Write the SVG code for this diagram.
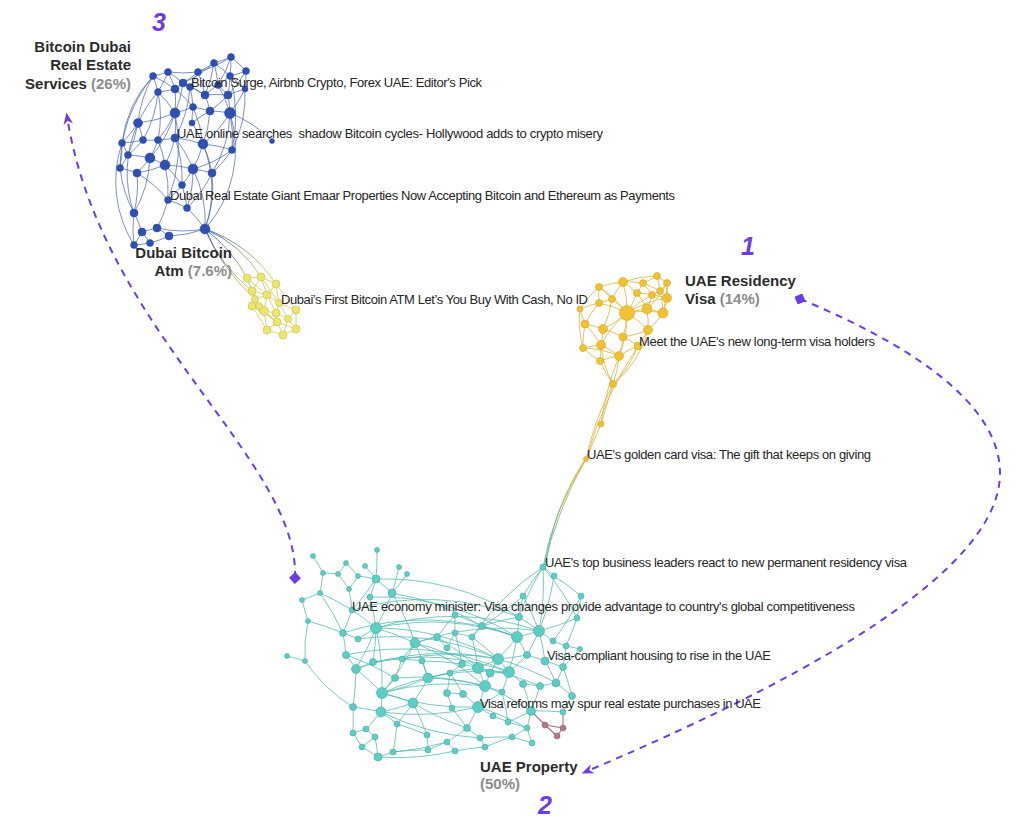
<svg xmlns="http://www.w3.org/2000/svg" width="1018" height="830" viewBox="0 0 1018 830">
<style>
.lbl{font-family:"Liberation Sans",Arial,sans-serif;font-size:13px;fill:#262626}
.big{font-family:"Liberation Sans",Arial,sans-serif;font-size:15px;font-weight:bold;fill:#2b2b2b}
.pct{fill:#8c8c8c}
.num{font-family:"Liberation Sans",Arial,sans-serif;font-size:25px;font-weight:bold;font-style:italic;fill:#6b3de3;text-anchor:middle}
.eb{fill:none;stroke:#3d5aa8;stroke-width:0.8;stroke-opacity:0.85}
.ey{fill:none;stroke:#cfc957;stroke-width:0.8}
.eg{fill:none;stroke:#d9b33c;stroke-width:0.8}
.et{fill:none;stroke:#4fb8b0;stroke-width:0.9;stroke-opacity:0.85}
.ep{fill:none;stroke:#a8707e;stroke-width:1.1}
.nb circle{fill:#2f4fb3;stroke:#27449e;stroke-width:0.5}
.ny circle{fill:#ebe66e;stroke:#c5bf45;stroke-width:0.6}
.ng circle{fill:#f2c131;stroke:#d7a51e;stroke-width:0.6}
.nt circle{fill:#5ecdc4;stroke:#47aaa2;stroke-width:0.6}
.np circle{fill:#b07a88;stroke:#94606e;stroke-width:0.6}
.arrow{fill:none;stroke:#6b3de3;stroke-width:2;stroke-dasharray:7 6}
</style>
<defs>
<linearGradient id="gBY" gradientUnits="userSpaceOnUse" x1="205" y1="229" x2="255" y2="282"><stop offset="0" stop-color="#3d5aa8"/><stop offset="1" stop-color="#cfc957"/></linearGradient>
<linearGradient id="gGT" gradientUnits="userSpaceOnUse" x1="586" y1="459" x2="543" y2="567"><stop offset="0" stop-color="#d9b33c"/><stop offset="1" stop-color="#4fb8b0"/></linearGradient>
<marker id="arr" viewBox="0 0 10 10" refX="7" refY="5" markerWidth="12" markerHeight="12" markerUnits="userSpaceOnUse" orient="auto"><path d="M0,1 L10,5 L0,9 L3,5 z" fill="#6b3de3"/></marker>
<marker id="dia" viewBox="0 0 10 10" refX="5" refY="5" markerWidth="12" markerHeight="12" markerUnits="userSpaceOnUse" orient="auto"><path d="M5,0 L10,5 L5,10 L0,5 z" fill="#6b3de3"/></marker>
</defs>
<rect width="1018" height="830" fill="#ffffff"/>
<g id="connectors">
<path class="eb" d="M231 57A120 120 0 0 1 214 63M231 57A120 120 0 0 1 246 71M231 57A120 120 0 0 1 230 76M231 57A120 120 0 0 1 218 85M214 63A120 120 0 0 1 198 72M214 63A120 120 0 0 1 230 76M214 63A120 120 0 0 1 218 85M214 63A120 120 0 0 1 183 83M246 71A120 120 0 0 1 230 76M246 71A120 120 0 0 1 245 89M246 71A120 120 0 0 1 228 95M198 72A120 120 0 0 1 168 72M198 72A120 120 0 0 1 190 87M198 72A120 120 0 0 1 183 83M198 72A120 120 0 0 1 205 95M168 72A120 120 0 0 1 153 76M168 72A120 120 0 0 1 183 83M168 72A120 120 0 0 1 175 89M153 76A120 120 0 0 1 158 92M153 76A120 120 0 0 1 175 89M153 76A120 120 0 0 0 138 123M230 76A120 120 0 0 1 218 85M230 76A120 120 0 0 1 228 95M230 76A120 120 0 0 1 245 89M183 83A120 120 0 0 1 175 89M183 83A120 120 0 0 1 190 87M183 83A120 120 0 0 1 205 95M175 89A120 120 0 0 1 158 92M175 89A120 120 0 0 1 175 113M175 89A120 120 0 0 1 193 107M158 92A120 120 0 0 0 138 123M158 92A120 120 0 0 1 175 113M190 87A120 120 0 0 1 205 95M190 87A120 120 0 0 1 193 107M205 95A120 120 0 0 1 218 85M205 95A120 120 0 0 1 228 95M205 95A120 120 0 0 1 210 111M218 85A120 120 0 0 1 228 95M218 85A120 120 0 0 1 230 113M228 95A120 120 0 0 1 245 89M228 95A120 120 0 0 1 230 113M245 89A120 120 0 0 1 230 113M245 89A120 120 0 0 1 232 150M193 107A120 120 0 0 1 210 111M193 107A120 120 0 0 1 175 113M193 107A120 120 0 0 1 203 144M210 111A120 120 0 0 1 230 113M210 111A120 120 0 0 1 203 144M230 113A120 120 0 0 1 232 150M230 113A120 120 0 0 1 203 144M230 113A120 120 0 0 1 212 173M175 113A120 120 0 0 1 138 123M175 113A120 120 0 0 1 175 138M175 113A120 120 0 0 1 158 140M175 113A120 120 0 0 1 150 158M138 123A120 120 0 0 1 143 140M138 123A120 120 0 0 1 122 143M138 123A120 120 0 0 1 128 155M175 138A120 120 0 0 1 158 140M175 138A120 120 0 0 1 203 144M175 138A120 120 0 0 1 165 165M175 138A120 120 0 0 1 193 169M158 140A120 120 0 0 1 143 140M158 140A120 120 0 0 1 150 158M143 140A120 120 0 0 1 122 143M143 140A120 120 0 0 1 128 155M122 143A120 120 0 0 1 128 155M122 143A120 120 0 0 1 120 168M203 144A120 120 0 0 1 232 150M203 144A120 120 0 0 1 193 169M203 144A120 120 0 0 1 212 173M232 150A120 120 0 0 1 212 173M128 155A120 120 0 0 1 150 158M128 155A120 120 0 0 1 120 168M150 158A120 120 0 0 1 165 165M150 158A120 120 0 0 1 137 173M165 165A120 120 0 0 1 193 169M165 165A120 120 0 0 1 182 185M165 165A120 120 0 0 1 168 200M120 168A120 120 0 0 1 137 173M120 168A120 120 0 0 0 134 213M137 173A120 120 0 0 1 168 200M137 173A120 120 0 0 1 134 213M193 169A120 120 0 0 1 212 173M193 169A120 120 0 0 1 182 185M193 169A120 120 0 0 1 187 208M212 173A120 120 0 0 1 205 229M182 185A120 120 0 0 1 168 200M182 185A120 120 0 0 1 187 208M168 200A120 120 0 0 1 187 208M168 200A120 120 0 0 1 157 228M187 208A120 120 0 0 1 205 229M134 213A120 120 0 0 1 142 232M134 213A120 120 0 0 0 134 245M205 229A120 120 0 0 1 169 236M205 229A120 120 0 0 1 157 228M142 232A120 120 0 0 1 157 228M142 232A120 120 0 0 1 150 243M142 232A120 120 0 0 1 134 245M157 228A120 120 0 0 1 169 236M169 236A120 120 0 0 1 150 243M150 243A120 120 0 0 1 134 245M193 169A120 120 0 0 1 205 229M203 144A120 120 0 0 1 205 229M230 113A120 120 0 0 1 205 229M138 123A120 120 0 0 0 134 213M122 143A120 120 0 0 0 134 245M153 76A120 120 0 0 0 122 143M158 92A120 120 0 0 1 158 140M190 87A120 120 0 0 1 175 138M214 63A120 120 0 0 1 205 95M192 123A120 120 0 0 1 193 107M192 123A120 120 0 0 1 210 111M192 123A120 120 0 0 1 203 144M231 57A120 120 0 0 1 198 72M168 72A120 120 0 0 1 158 92M158 92A120 120 0 0 1 143 140M150 158A120 120 0 0 1 134 213M165 165A120 120 0 0 1 137 173M212 173A120 120 0 0 1 187 208M175 138A120 120 0 0 1 182 185M232 150A120 120 0 0 1 193 169M228 95A120 120 0 0 1 210 111M183 83A120 120 0 0 1 175 113M158 140A120 120 0 0 1 165 165M230 113A120 120 0 0 1 272 141M175 113A150 150 0 0 1 168 200M153 76A150 150 0 0 0 120 168M230 76A150 150 0 0 1 232 150"/>
<path fill="none" stroke="url(#gBY)" stroke-width="0.9" d="M205 229A150 150 0 0 1 247 278M205 229A120 120 0 0 1 261 277M205 229A160 160 0 0 0 252 291M205 229A140 140 0 0 1 276 284M205 229A200 200 0 0 0 255 299"/>
<path class="ey" d="M247 278L261 277M247 278L252 291M247 278L255 299M261 277L276 284M261 277L252 291M261 277L267 295M276 284L267 295M276 284L279 303M276 284L296 310M252 291L267 295M252 291L255 299M252 291L259 306M267 295L279 303M267 295L255 299M267 295L264 311M267 295L276 313M279 303L276 313M279 303L296 310M279 303L288 319M255 299L252 306M255 299L264 311M252 306L264 311M252 306L267 330M252 306L259 306M264 311L276 313M264 311L277 322M264 311L267 330M276 313L288 319M276 313L277 322M288 319L296 310M288 319L296 329M288 319L283 335M296 310L296 329M277 322L267 330M277 322L283 335M267 330L283 335M283 335L296 329M277 322L296 329M259 306L264 311M259 306L277 322M261 277L279 303M247 278L267 295M252 306L277 322"/>
<path class="eg" d="M657 276A100 100 0 0 1 667 283M657 276A100 100 0 0 1 643 283M657 276A100 100 0 0 1 660 291M657 276A100 100 0 0 0 623 282M667 283A100 100 0 0 1 660 291M667 283A100 100 0 0 1 667 298M623 282A100 100 0 0 1 643 283M623 282A100 100 0 0 0 599 287M623 282A100 100 0 0 1 637 293M623 282A100 100 0 0 1 627 313M643 283A100 100 0 0 1 637 293M643 283A100 100 0 0 1 652 295M643 283A100 100 0 0 1 660 291M599 287A100 100 0 0 1 612 299M599 287A100 100 0 0 0 599 303M637 293A100 100 0 0 1 652 295M637 293A100 100 0 0 1 627 313M637 293A100 100 0 0 1 647 309M652 295A100 100 0 0 1 660 291M652 295A100 100 0 0 1 667 298M652 295A100 100 0 0 1 647 309M660 291A100 100 0 0 1 667 298M660 291A100 100 0 0 1 663 313M667 298A100 100 0 0 1 663 313M612 299A100 100 0 0 1 599 303M612 299A100 100 0 0 1 627 313M612 299A100 100 0 0 1 603 329M599 303A100 100 0 0 0 580 309M599 303A100 100 0 0 0 585 324M599 303A100 100 0 0 1 627 313M627 313A100 100 0 0 1 647 309M627 313A100 100 0 0 1 663 313M627 313A100 100 0 0 1 603 329M627 313A100 100 0 0 1 623 337M627 313A100 100 0 0 1 648 330M627 313A100 100 0 0 0 601 345M627 313A100 100 0 0 1 619 356M647 309A100 100 0 0 1 663 313M647 309A100 100 0 0 1 648 330M663 313A100 100 0 0 1 648 330M580 309A100 100 0 0 0 585 324M585 324A100 100 0 0 1 603 329M585 324A100 100 0 0 0 583 348M603 329A100 100 0 0 1 623 337M603 329A100 100 0 0 1 601 345M648 330A100 100 0 0 1 623 337M648 330A100 100 0 0 1 638 346M623 337A100 100 0 0 1 619 356M623 337A100 100 0 0 1 638 346M583 348A100 100 0 0 1 601 345M583 348A100 100 0 0 0 600 361M601 345A100 100 0 0 1 619 356M601 345A100 100 0 0 1 600 361M619 356A100 100 0 0 1 638 346M619 356A100 100 0 0 1 613 384M638 346A100 100 0 0 1 613 384M600 361A100 100 0 0 0 613 384M601 345A100 100 0 0 0 613 384M648 330A100 100 0 0 1 613 384M623 282A100 100 0 0 0 612 299M627 313A100 100 0 0 0 599 287M627 313A100 100 0 0 1 652 295M663 313A100 100 0 0 0 667 283M627 313A100 100 0 0 1 667 298M647 309A100 100 0 0 0 667 283M585 324A100 100 0 0 1 601 345M580 309A100 100 0 0 0 583 348M583 348A100 100 0 0 1 619 356M600 361A100 100 0 0 1 619 356M599 287A100 100 0 0 0 580 309M613 384L601 424M613 384A300 300 0 0 0 586 459M601 424L586 459M619 356A300 300 0 0 0 601 424M638 346A400 400 0 0 0 587 456"/>
<path fill="none" stroke="url(#gGT)" stroke-width="0.9" d="M586 459A300 300 0 0 0 543 567M588 455A260 260 0 0 0 545 570M586 459A400 400 0 0 0 544 566"/>
<path class="et" d="M313 556A260 260 0 0 1 323 573M323 573A260 260 0 0 1 320 593M323 573A260 260 0 0 1 338 574M346 563A260 260 0 0 1 338 574M346 563A260 260 0 0 1 358 576M338 574A260 260 0 0 1 349 589M377 550A260 260 0 0 1 376 579M365 566A260 260 0 0 1 376 579M358 576A260 260 0 0 1 376 579M358 576A260 260 0 0 1 349 589M399 567A260 260 0 0 1 392 593M407 574A260 260 0 0 1 392 593M376 579A260 260 0 0 1 370 597M376 579A260 260 0 0 1 392 593M376 579A260 260 0 0 1 352 610M349 589A260 260 0 0 1 352 610M320 593A260 260 0 0 1 302 600M320 593A260 260 0 0 1 352 610M320 593A260 260 0 0 1 343 633M302 600A260 260 0 0 0 308 621M308 621A160 160 0 0 0 305 661M287 656A260 260 0 0 1 305 661M370 597A260 260 0 0 1 376 628M392 593A260 260 0 0 1 376 628M392 593A260 260 0 0 1 415 643M352 610A260 260 0 0 1 343 633M352 610A260 260 0 0 1 376 628M343 633A260 260 0 0 1 358 639M343 633A260 260 0 0 1 346 655M358 639A260 260 0 0 1 376 628M376 628A260 260 0 0 1 415 643M376 628A260 260 0 0 1 373 662M376 628A260 260 0 0 1 356 669M376 628A260 260 0 0 1 382 693M415 643A260 260 0 0 1 437 637M415 643A260 260 0 0 1 428 678M415 643A260 260 0 0 1 402 659M415 643A260 260 0 0 1 382 693M437 637A260 260 0 0 1 447 648M437 637A260 260 0 0 1 455 615M447 648A260 260 0 0 1 455 633M346 655A260 260 0 0 1 356 669M346 655A260 260 0 0 1 395 678M373 662A260 260 0 0 1 402 659M373 662A260 260 0 0 1 356 669M402 659A260 260 0 0 1 422 661M402 659A260 260 0 0 1 395 678M356 669A260 260 0 0 1 382 693M356 669A260 260 0 0 1 353 707M422 661A260 260 0 0 1 428 678M395 678A260 260 0 0 1 382 693M428 678A260 260 0 0 1 382 693M428 678A260 260 0 0 1 413 703M428 678A260 260 0 0 1 450 673M382 693A260 260 0 0 1 413 703M382 693A260 260 0 0 1 381 712M413 703A260 260 0 0 1 381 712M413 703A260 260 0 0 1 397 724M353 707A260 260 0 0 1 381 712M353 707A260 260 0 0 1 353 733M381 712A260 260 0 0 1 397 724M381 712A260 260 0 0 1 366 729M397 724A260 260 0 0 1 393 752M353 733A260 260 0 0 1 366 729M353 733A260 260 0 0 1 362 747M366 729A260 260 0 0 1 375 737M362 747A260 260 0 0 1 375 737M362 747A260 260 0 0 1 378 757M375 737A260 260 0 0 1 378 757M393 752A260 260 0 0 1 378 757M397 724A260 260 0 0 1 427 735M427 735A260 260 0 0 1 428 750M413 703A260 260 0 0 1 427 735M428 750A260 260 0 0 1 447 742M393 752A260 260 0 0 1 428 750M305 661A160 160 0 0 0 353 707M308 621A260 260 0 0 1 343 633M543 567A260 260 0 0 1 554 576M543 567A260 260 0 0 0 523 596M543 567A260 260 0 0 1 539 631M554 576A260 260 0 0 1 539 631M523 596A260 260 0 0 0 519 617M523 596A260 260 0 0 1 539 631M581 596A260 260 0 0 1 577 618M577 618A260 260 0 0 1 539 631M577 618A260 260 0 0 1 566 646M581 596A260 260 0 0 1 553 641M519 617A260 260 0 0 0 482 626M519 617A260 260 0 0 1 517 637M519 617A260 260 0 0 1 539 631M455 615A260 260 0 0 1 482 626M455 615A260 260 0 0 0 455 633M482 626A260 260 0 0 1 517 637M482 626A260 260 0 0 1 472 637M539 631A260 260 0 0 1 517 637M539 631A260 260 0 0 1 553 641M539 631A260 260 0 0 1 527 655M539 631A260 260 0 0 1 545 661M517 637A260 260 0 0 1 527 655M517 637A260 260 0 0 1 498 659M517 637A260 260 0 0 1 509 672M455 633A260 260 0 0 1 472 637M455 633A260 260 0 0 1 462 664M472 637A260 260 0 0 1 498 659M472 637A260 260 0 0 1 478 668M553 641A260 260 0 0 1 566 646M566 646A260 260 0 0 1 580 649M566 646A260 260 0 0 1 563 667M580 649A260 260 0 0 1 563 667M527 655A260 260 0 0 1 498 659M527 655A260 260 0 0 1 545 661M527 655A260 260 0 0 1 509 672M498 659A260 260 0 0 1 478 668M498 659A260 260 0 0 1 509 672M498 659A260 260 0 0 1 490 673M545 661A260 260 0 0 1 563 667M545 661A260 260 0 0 1 556 683M462 664A260 260 0 0 1 478 668M462 664A260 260 0 0 1 450 673M478 668A260 260 0 0 1 490 673M478 668A260 260 0 0 1 485 686M509 672A260 260 0 0 1 523 684M509 672A260 260 0 0 1 490 673M509 672A260 260 0 0 1 502 692M563 667A260 260 0 0 1 556 683M563 667A260 260 0 0 1 572 696M490 673A260 260 0 0 1 485 686M450 673A260 260 0 0 1 447 693M450 673A260 260 0 0 1 463 694M523 684A260 260 0 0 1 540 686M523 684A260 260 0 0 1 531 711M540 686A260 260 0 0 1 556 683M540 686A260 260 0 0 1 531 711M556 683A260 260 0 0 1 572 696M485 686A260 260 0 0 1 502 692M485 686A260 260 0 0 1 478 707M447 693A260 260 0 0 1 463 694M447 693A260 260 0 0 1 452 708M463 694A260 260 0 0 1 478 707M572 696A260 260 0 0 1 563 712M502 692A260 260 0 0 1 478 707M502 692A260 260 0 0 1 508 722M478 707A260 260 0 0 1 493 716M478 707A260 260 0 0 1 467 728M531 711A260 260 0 0 1 508 722M531 711A260 260 0 0 1 527 728M531 711A260 260 0 0 1 563 712M452 708A260 260 0 0 1 467 728M493 716A260 260 0 0 1 508 722M508 722A260 260 0 0 1 527 728M467 728A260 260 0 0 1 447 742M467 728A260 260 0 0 1 480 738M447 742A260 260 0 0 1 455 751M480 738A260 260 0 0 1 485 747M512 737A260 260 0 0 1 532 743M527 728A260 260 0 0 1 512 737M480 738A260 260 0 0 1 512 737M455 751A260 260 0 0 1 485 747M532 743A260 260 0 0 1 527 728M485 747A260 260 0 0 1 512 737M376 628A260 260 0 0 1 498 659M376 628A260 260 0 0 1 517 637M415 643A260 260 0 0 1 478 668M415 643A260 260 0 0 1 485 686M382 693A260 260 0 0 1 485 686M382 693A260 260 0 0 0 478 707M356 669A260 260 0 0 1 498 659M346 655A260 260 0 0 1 509 672M343 633A260 260 0 0 1 517 637M352 610A260 260 0 0 1 519 617M392 593A260 260 0 0 1 482 626M437 637A260 260 0 0 1 478 668M373 662A260 260 0 0 1 509 672M381 712A260 260 0 0 0 478 707M413 703A260 260 0 0 0 467 728M378 757A260 260 0 0 0 455 751M393 752A260 260 0 0 0 447 742M428 678A260 260 0 0 1 478 668M428 678A260 260 0 0 1 485 686M402 659A260 260 0 0 1 498 659M415 643A260 260 0 0 1 539 631M376 628A260 260 0 0 1 539 631M382 693A260 260 0 0 1 509 672M376 579A260 260 0 0 1 519 617M370 597A260 260 0 0 1 517 637M358 639A260 260 0 0 1 498 659M381 712A260 260 0 0 0 480 738M395 678A260 260 0 0 1 485 686M422 661A260 260 0 0 1 462 664M543 567A260 260 0 0 1 577 618M554 576A260 260 0 0 1 581 596M543 567A260 260 0 0 0 519 617M523 596A260 260 0 0 1 482 626M498 659A260 260 0 0 1 556 683M478 668A260 260 0 0 1 540 686M485 686A260 260 0 0 1 531 711M478 707A260 260 0 0 1 527 728M543 567A260 260 0 0 0 472 637"/>
<path class="ep" d="M531 711L545 725M563 712L563 728M545 725L563 728M545 725L557 736M557 736L563 728"/>
<path class="arrow" d="M295 578C300 460 100 330 67 116" marker-start="url(#dia)" marker-end="url(#arr)"/>
<path class="arrow" d="M800 299C900 340 1000 400 1000 473C1000 560 850 660 585 772" marker-start="url(#dia)" marker-end="url(#arr)"/>
</g>
<g id="cluster-bitcoin-dubai" class="nb">
<g id="b1"><circle cx="231" cy="57" r="3.5"/></g><g id="b2"><circle cx="214" cy="63" r="3.5"/></g><g id="b3"><circle cx="246" cy="71" r="3.5"/></g><g id="b4"><circle cx="198" cy="72" r="3.5"/></g><g id="b5"><circle cx="168" cy="72" r="3.5"/></g><g id="b6"><circle cx="153" cy="76" r="3.5"/></g><g id="b7"><circle cx="230" cy="76" r="3.5"/></g><g id="b8"><circle cx="183" cy="83" r="4"/></g><g id="b9"><circle cx="175" cy="89" r="4"/></g><g id="b10"><circle cx="158" cy="92" r="3.5"/></g><g id="b11"><circle cx="190" cy="87" r="3.5"/></g><g id="b12"><circle cx="205" cy="95" r="4"/></g><g id="b13"><circle cx="218" cy="85" r="3.5"/></g><g id="b14"><circle cx="228" cy="95" r="4"/></g><g id="b15"><circle cx="245" cy="89" r="3"/></g><g id="b16"><circle cx="193" cy="107" r="3.5"/></g><g id="b17"><circle cx="210" cy="111" r="4"/></g><g id="b18"><circle cx="230" cy="113" r="5.5"/></g><g id="b19"><circle cx="175" cy="113" r="5"/></g><g id="b20"><circle cx="138" cy="123" r="4.5"/></g><g id="b21"><circle cx="175" cy="138" r="4"/></g><g id="b22"><circle cx="158" cy="140" r="3.5"/></g><g id="b23"><circle cx="143" cy="140" r="3.5"/></g><g id="b24"><circle cx="122" cy="143" r="3.5"/></g><g id="b25"><circle cx="203" cy="144" r="5"/></g><g id="b26"><circle cx="232" cy="150" r="3.5"/></g><g id="b27"><circle cx="128" cy="155" r="3.5"/></g><g id="b28"><circle cx="150" cy="158" r="5"/></g><g id="b29"><circle cx="165" cy="165" r="5"/></g><g id="b30"><circle cx="120" cy="168" r="3.5"/></g><g id="b31"><circle cx="137" cy="173" r="4"/></g><g id="b32"><circle cx="193" cy="169" r="5"/></g><g id="b33"><circle cx="212" cy="173" r="4"/></g><g id="b34"><circle cx="182" cy="185" r="3.5"/></g><g id="b35"><circle cx="168" cy="200" r="3.5"/></g><g id="b36"><circle cx="187" cy="208" r="3.5"/></g><g id="b37"><circle cx="134" cy="213" r="4"/></g><g id="b38"><circle cx="205" cy="229" r="5"/></g><g id="b39"><circle cx="142" cy="232" r="4"/></g><g id="b40"><circle cx="157" cy="228" r="4"/></g><g id="b41"><circle cx="169" cy="236" r="4"/></g><g id="b42"><circle cx="150" cy="243" r="3.5"/></g><g id="b43"><circle cx="134" cy="245" r="3.5"/></g><g id="b44"><circle cx="192" cy="123" r="3"/></g><g id="b45"><circle cx="272" cy="141" r="2.5"/></g>
</g>
<g id="cluster-dubai-bitcoin-atm" class="ny">
<g id="y1"><circle cx="247" cy="278" r="4"/></g><g id="y2"><circle cx="261" cy="277" r="4"/></g><g id="y3"><circle cx="276" cy="284" r="4"/></g><g id="y4"><circle cx="252" cy="291" r="4"/></g><g id="y5"><circle cx="267" cy="295" r="4"/></g><g id="y6"><circle cx="279" cy="303" r="3.5"/></g><g id="y7"><circle cx="255" cy="299" r="3.5"/></g><g id="y8"><circle cx="252" cy="306" r="4"/></g><g id="y9"><circle cx="264" cy="311" r="4.5"/></g><g id="y10"><circle cx="276" cy="313" r="4"/></g><g id="y11"><circle cx="288" cy="319" r="3.5"/></g><g id="y12"><circle cx="296" cy="310" r="4"/></g><g id="y13"><circle cx="277" cy="322" r="4"/></g><g id="y14"><circle cx="267" cy="330" r="4"/></g><g id="y15"><circle cx="283" cy="335" r="4"/></g><g id="y16"><circle cx="296" cy="329" r="4"/></g><g id="y17"><circle cx="259" cy="306" r="3.5"/></g>
</g>
<g id="cluster-uae-residency-visa" class="ng">
<g id="g1"><circle cx="657" cy="276" r="3.5"/></g><g id="g2"><circle cx="667" cy="283" r="3.5"/></g><g id="g3"><circle cx="623" cy="282" r="4.5"/></g><g id="g4"><circle cx="643" cy="283" r="3.5"/></g><g id="g5"><circle cx="599" cy="287" r="3.5"/></g><g id="g6"><circle cx="637" cy="293" r="3.5"/></g><g id="g7"><circle cx="652" cy="295" r="3.5"/></g><g id="g8"><circle cx="660" cy="291" r="3.5"/></g><g id="g9"><circle cx="667" cy="298" r="4.5"/></g><g id="g10"><circle cx="612" cy="299" r="3.5"/></g><g id="g11"><circle cx="599" cy="303" r="3.5"/></g><g id="g12"><circle cx="627" cy="313" r="7.5"/></g><g id="g13"><circle cx="647" cy="309" r="5"/></g><g id="g14"><circle cx="663" cy="313" r="5"/></g><g id="g15"><circle cx="580" cy="309" r="3"/></g><g id="g16"><circle cx="585" cy="324" r="4"/></g><g id="g17"><circle cx="603" cy="329" r="4.5"/></g><g id="g18"><circle cx="648" cy="330" r="4.5"/></g><g id="g19"><circle cx="623" cy="337" r="4"/></g><g id="g20"><circle cx="583" cy="348" r="3.5"/></g><g id="g21"><circle cx="601" cy="345" r="4.5"/></g><g id="g22"><circle cx="619" cy="356" r="4.5"/></g><g id="g23"><circle cx="638" cy="346" r="4"/></g><g id="g24"><circle cx="600" cy="361" r="3.5"/></g><g id="g25"><circle cx="613" cy="384" r="3.5"/></g><g id="g26"><circle cx="601" cy="424" r="3"/></g><g id="g27"><circle cx="586" cy="459" r="2.5"/></g>
</g>
<g id="cluster-uae-property" class="nt">
<g id="t1"><circle cx="313" cy="556" r="2.5"/></g><g id="t2"><circle cx="377" cy="550" r="2.5"/></g><g id="t3"><circle cx="346" cy="563" r="2.5"/></g><g id="t4"><circle cx="365" cy="566" r="2.5"/></g><g id="t5"><circle cx="323" cy="573" r="2.5"/></g><g id="t6"><circle cx="338" cy="574" r="2.5"/></g><g id="t7"><circle cx="358" cy="576" r="2.5"/></g><g id="t8"><circle cx="399" cy="567" r="2.5"/></g><g id="t9"><circle cx="407" cy="574" r="2.5"/></g><g id="t10"><circle cx="376" cy="579" r="4"/></g><g id="t11"><circle cx="349" cy="589" r="2.5"/></g><g id="t12"><circle cx="320" cy="593" r="2.5"/></g><g id="t13"><circle cx="370" cy="597" r="3"/></g><g id="t14"><circle cx="392" cy="593" r="4"/></g><g id="t15"><circle cx="302" cy="600" r="2.5"/></g><g id="t16"><circle cx="352" cy="610" r="3"/></g><g id="t17"><circle cx="308" cy="621" r="2.5"/></g><g id="t18"><circle cx="376" cy="628" r="5.5"/></g><g id="t19"><circle cx="343" cy="633" r="3.5"/></g><g id="t20"><circle cx="358" cy="639" r="3"/></g><g id="t21"><circle cx="415" cy="643" r="5"/></g><g id="t22"><circle cx="437" cy="637" r="3.5"/></g><g id="t23"><circle cx="447" cy="648" r="3"/></g><g id="t24"><circle cx="287" cy="656" r="2.5"/></g><g id="t25"><circle cx="305" cy="661" r="2.5"/></g><g id="t26"><circle cx="346" cy="655" r="3.5"/></g><g id="t27"><circle cx="373" cy="662" r="3.5"/></g><g id="t28"><circle cx="402" cy="659" r="3"/></g><g id="t29"><circle cx="356" cy="669" r="4.5"/></g><g id="t30"><circle cx="422" cy="661" r="3"/></g><g id="t31"><circle cx="395" cy="678" r="3.5"/></g><g id="t32"><circle cx="428" cy="678" r="5"/></g><g id="t33"><circle cx="382" cy="693" r="5.5"/></g><g id="t34"><circle cx="413" cy="703" r="5"/></g><g id="t35"><circle cx="353" cy="707" r="3.5"/></g><g id="t36"><circle cx="381" cy="712" r="5"/></g><g id="t37"><circle cx="397" cy="724" r="3"/></g><g id="t38"><circle cx="353" cy="733" r="3"/></g><g id="t39"><circle cx="366" cy="729" r="3"/></g><g id="t40"><circle cx="362" cy="747" r="3"/></g><g id="t41"><circle cx="375" cy="737" r="3"/></g><g id="t42"><circle cx="393" cy="752" r="3"/></g><g id="t43"><circle cx="378" cy="757" r="4"/></g><g id="t44"><circle cx="427" cy="735" r="3"/></g><g id="t45"><circle cx="428" cy="750" r="3"/></g><g id="t46"><circle cx="543" cy="567" r="3"/></g><g id="t47"><circle cx="554" cy="576" r="3"/></g><g id="t48"><circle cx="523" cy="596" r="3"/></g><g id="t49"><circle cx="581" cy="596" r="3"/></g><g id="t50"><circle cx="577" cy="618" r="3"/></g><g id="t51"><circle cx="519" cy="617" r="3.5"/></g><g id="t52"><circle cx="455" cy="615" r="3"/></g><g id="t53"><circle cx="482" cy="626" r="3.5"/></g><g id="t54"><circle cx="539" cy="631" r="5.5"/></g><g id="t55"><circle cx="517" cy="637" r="5.5"/></g><g id="t56"><circle cx="455" cy="633" r="3"/></g><g id="t57"><circle cx="472" cy="637" r="3"/></g><g id="t59"><circle cx="553" cy="641" r="3"/></g><g id="t60"><circle cx="566" cy="646" r="3"/></g><g id="t61"><circle cx="580" cy="649" r="2.5"/></g><g id="t62"><circle cx="527" cy="655" r="3.5"/></g><g id="t63"><circle cx="498" cy="659" r="5.5"/></g><g id="t64"><circle cx="545" cy="661" r="4"/></g><g id="t65"><circle cx="462" cy="664" r="3.5"/></g><g id="t66"><circle cx="478" cy="668" r="5.5"/></g><g id="t67"><circle cx="509" cy="672" r="5.5"/></g><g id="t68"><circle cx="563" cy="667" r="3.5"/></g><g id="t69"><circle cx="490" cy="673" r="4"/></g><g id="t70"><circle cx="450" cy="673" r="3"/></g><g id="t71"><circle cx="523" cy="684" r="3.5"/></g><g id="t72"><circle cx="540" cy="686" r="3.5"/></g><g id="t73"><circle cx="556" cy="683" r="4"/></g><g id="t74"><circle cx="485" cy="686" r="5.5"/></g><g id="t75"><circle cx="447" cy="693" r="3.5"/></g><g id="t76"><circle cx="463" cy="694" r="3.5"/></g><g id="t77"><circle cx="572" cy="696" r="3.5"/></g><g id="t78"><circle cx="502" cy="692" r="3"/></g><g id="t79"><circle cx="478" cy="707" r="5.5"/></g><g id="t80"><circle cx="531" cy="711" r="4.5"/></g><g id="t81"><circle cx="452" cy="708" r="3"/></g><g id="t82"><circle cx="563" cy="712" r="3"/></g><g id="t83"><circle cx="493" cy="716" r="3"/></g><g id="t84"><circle cx="508" cy="722" r="3"/></g><g id="t85"><circle cx="527" cy="728" r="3"/></g><g id="t86"><circle cx="467" cy="728" r="3.5"/></g><g id="t87"><circle cx="447" cy="742" r="3"/></g><g id="t88"><circle cx="480" cy="738" r="3"/></g><g id="t89"><circle cx="512" cy="737" r="3"/></g><g id="t90"><circle cx="532" cy="743" r="3"/></g><g id="t91"><circle cx="455" cy="751" r="3"/></g><g id="t92"><circle cx="485" cy="747" r="3"/></g>
</g>
<g id="cluster-pink" class="np">
<g id="p1"><circle cx="545" cy="725" r="3"/></g><g id="p2"><circle cx="563" cy="728" r="3"/></g><g id="p3"><circle cx="557" cy="736" r="3"/></g>
</g>
<g id="headline-labels">
<text class="lbl" x="191" y="87" textLength="291">Bitcoin Surge, Airbnb Crypto, Forex UAE: Editor's Pick</text>
<text class="lbl" x="177" y="138" textLength="426" xml:space="preserve">UAE online searches  shadow Bitcoin cycles- Hollywood adds to crypto misery</text>
<text class="lbl" x="170" y="200" textLength="505">Dubai Real Estate Giant Emaar Properties Now Accepting Bitcoin and Ethereum as Payments</text>
<text class="lbl" x="281" y="304" textLength="307">Dubai’s First Bitcoin ATM Let’s You Buy With Cash, No ID</text>
<text class="lbl" x="639" y="346" textLength="236">Meet the UAE's new long-term visa holders</text>
<text class="lbl" x="587" y="459" textLength="284">UAE's golden card visa: The gift that keeps on giving</text>
<text class="lbl" x="545" y="567" textLength="362">UAE's top business leaders react to new permanent residency visa</text>
<text class="lbl" x="352" y="611" textLength="503">UAE economy minister: Visa changes provide advantage to country's global competitiveness</text>
<text class="lbl" x="547" y="660" textLength="224">Visa-compliant housing to rise in the UAE</text>
<text class="lbl" x="480" y="708" textLength="281">Visa reforms may spur real estate purchases in UAE</text>
</g>
<g id="label-bitcoin-dubai">
<text class="big" x="131" y="52" text-anchor="end">Bitcoin Dubai</text>
<text class="big" x="131" y="70" text-anchor="end">Real Estate</text>
<text class="big" x="131" y="89" text-anchor="end">Services <tspan class="pct">(26%)</tspan></text>
<text class="num" x="159" y="31">3</text>
</g>
<g id="label-dubai-atm">
<text class="big" x="232" y="258" text-anchor="end">Dubai Bitcoin</text>
<text class="big" x="232" y="276" text-anchor="end">Atm <tspan class="pct">(7.6%)</tspan></text>
</g>
<g id="label-residency">
<text class="num" x="748" y="255">1</text>
<text class="big" x="685" y="286">UAE Residency</text>
<text class="big" x="685" y="304">Visa <tspan class="pct">(14%)</tspan></text>
</g>
<g id="label-property">
<text class="big" x="480" y="772">UAE Property</text>
<text class="big pct" x="480" y="789">(50%)</text>
<text class="num" x="545" y="814">2</text>
</g>
</svg>
